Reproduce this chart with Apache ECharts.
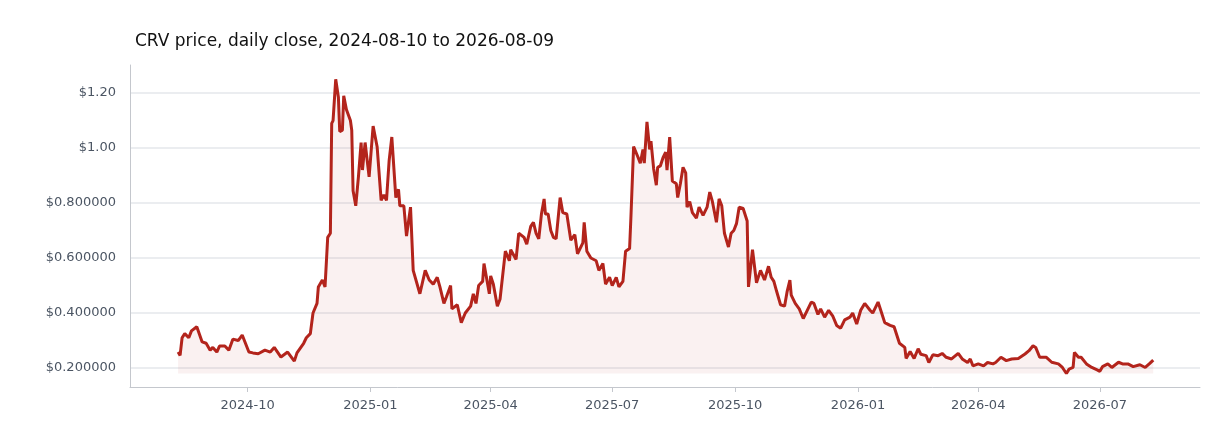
<!DOCTYPE html>
<html><head><meta charset="utf-8">
<script src="https://cdn.jsdelivr.net/npm/echarts@6/dist/echarts.min.js"></script>
<style>html,body{margin:0;padding:0;background:#fff}#c{width:1232px;height:448px}</style>
</head><body><div id="c"></div>
<script>
const startDate = '2024-08-10';
const dayOffsets = [0,1.5,3,5,8,10,14,18,21,24,26,29,31,35,38,41,45,48,53,56,60,65,69,72,77,82,87,89,94,96,99,101,104,105,108,110,112,114,115,116,118,120,121,123,124,126,129,130,131,133,135,137,138,140,143,146,149,152,154,156,158,160,163,165,166,169,171,174,176,
181,185,188,191,194,196,199,201,204,205,209,212,215,219,221,223,225,228,229,233,234,236,239,241,245,248,249,253,255,259,261,264,266,268,270,272,274,275,277,279,281,283,286,288,291,294,297,299,303,304,306,309,313,315,318,320,323,325,328,330,333,335,338,339,341,344,346,348,349,351,353,354,356,358,359,361,363,365,366,368,
370,373,374,376,378,380,381,383,385,388,390,393,396,398,400,403,405,407,409,412,414,416,418,420,423,426,427,428,430,433,436,439,442,444,446,448,451,454,456,458,459,462,465,468,471,474,476,479,481,484,487,490,493,496,499,503,505,508,511,514,518,520,524,526,529,533,536,540,544,545,548,551,554,
556,560,562,565,569,572,575,579,584,587,591,593,595,599,603,606,610,612,616,620,624,629,634,637,640,642,645,650,654,659,662,665,667,670,671,674,676,680,684,688,690,692,696,699,704,707,711,715,720,724,727,730];
const closePrices = [0.258,0.246,0.31,0.325,0.31,0.335,0.35,0.295,0.29,0.265,0.275,0.258,0.28,0.28,0.265,0.305,0.3,0.32,0.258,0.255,0.252,0.265,0.258,0.275,0.24,0.258,0.225,0.255,0.29,0.31,0.325,0.4,0.435,0.495,0.52,0.495,0.675,0.69,1.09,1.1,1.25,1.185,1.06,1.065,1.19,1.14,1.1,1.065,0.845,0.79,0.895,1.02,0.92,1.02,0.895,1.08,1.005,0.81,0.83,0.81,0.955,1.04,0.82,0.85,0.79,0.79,0.68,0.785,0.555,
0.47,0.555,0.52,0.505,0.53,0.495,0.435,0.46,0.5,0.415,0.43,0.365,0.4,0.425,0.47,0.435,0.5,0.515,0.58,0.47,0.535,0.505,0.425,0.45,0.625,0.59,0.63,0.595,0.69,0.675,0.65,0.715,0.73,0.69,0.67,0.76,0.815,0.76,0.76,0.7,0.675,0.67,0.82,0.765,0.76,0.665,0.685,0.615,0.655,0.73,0.625,0.6,0.59,0.555,0.58,0.505,0.53,0.5,0.53,0.495,0.515,0.625,0.635,0.75,1.005,0.97,0.945,0.995,0.945,1.095,0.995,1.025,0.925,0.865,0.93,0.935,0.965,0.985,0.92,1.04,
0.88,0.87,0.82,0.87,0.93,0.91,0.785,0.805,0.765,0.745,0.785,0.755,0.785,0.84,0.805,0.73,0.815,0.79,0.69,0.64,0.69,0.7,0.725,0.785,0.78,0.735,0.495,0.49,0.63,0.51,0.555,0.52,0.57,0.53,0.515,0.48,0.43,0.425,0.48,0.52,0.465,0.435,0.415,0.38,0.41,0.44,0.435,0.395,0.415,0.385,0.41,0.39,0.355,0.345,0.375,0.385,0.4,0.36,0.41,0.435,0.41,0.4,0.44,0.41,0.365,0.355,0.35,0.29,0.275,0.235,0.26,0.235,0.27,
0.25,0.245,0.22,0.248,0.245,0.253,0.239,0.233,0.253,0.233,0.22,0.233,0.208,0.215,0.208,0.22,0.215,0.22,0.239,0.227,0.233,0.235,0.251,0.263,0.281,0.275,0.239,0.239,0.221,0.215,0.202,0.18,0.196,0.202,0.257,0.239,0.239,0.215,0.202,0.193,0.188,0.205,0.215,0.202,0.221,0.215,0.215,0.205,0.212,0.202,0.215,0.229];
const titleText = 'CRV price, daily close, 2024-08-10 to 2026-08-09';

const t0 = Date.parse(startDate + 'T00:00:00Z');
const DAY = 86400000;
const seriesData = dayOffsets.map((d, i) => [t0 + Math.round(d * DAY), closePrices[i]]);
const areaBase = Math.min(...closePrices);

const chart = echarts.init(document.getElementById('c'));
chart.setOption({
  animation: false,
  title: { text: titleText, left: 130, top: 28, textStyle: { fontFamily: 'DejaVu Sans', fontSize: 17, fontWeight: 'normal', color: '#111' } },
  grid: { left: 130, right: 32, top: 65, bottom: 61 },
  xAxis: {
    type: 'time', min: Date.parse('2024-07-05T00:00:00Z'), max: Date.parse('2026-09-14T00:00:00Z'),
    splitNumber: 8,
    axisLine: { lineStyle: { color: '#c4c7cd' } },
    axisTick: { show: true, lineStyle: { color: '#c4c7cd' } },
    minorTick: { show: false },
    splitLine: { show: false },
    axisLabel: {
      color: '#4b5563', fontFamily: 'DejaVu Sans', fontSize: 13, margin: 12, showMinLabel: false, showMaxLabel: false,
      formatter: v => { const d = new Date(v); return d.getUTCFullYear() + '-' + String(d.getUTCMonth() + 1).padStart(2, '0'); }
    }
  },
  yAxis: {
    type: 'value', min: 0.131, max: 1.302, splitNumber: 6,
    axisLine: { show: true, lineStyle: { color: '#c4c7cd' } },
    axisTick: { show: false },
    splitLine: { show: true, showMinLine: false, showMaxLine: false, lineStyle: { color: '#e5e7eb', width: 1.5 } },
    axisLabel: {
      color: '#4b5563', fontFamily: 'DejaVu Sans', fontSize: 13, margin: 14, showMinLabel: false, showMaxLabel: false,
      formatter: v => '$' + (v >= 1 ? v.toFixed(2) : v.toFixed(6))
    }
  },
  series: [{
    type: 'line', data: seriesData, showSymbol: false, smooth: false,
    lineStyle: { color: '#b3241c', width: 3 },
    itemStyle: { color: '#b3241c' },
    areaStyle: { color: 'rgba(179,36,28,0.09)', origin: areaBase }
  }]
});
</script></body></html>
